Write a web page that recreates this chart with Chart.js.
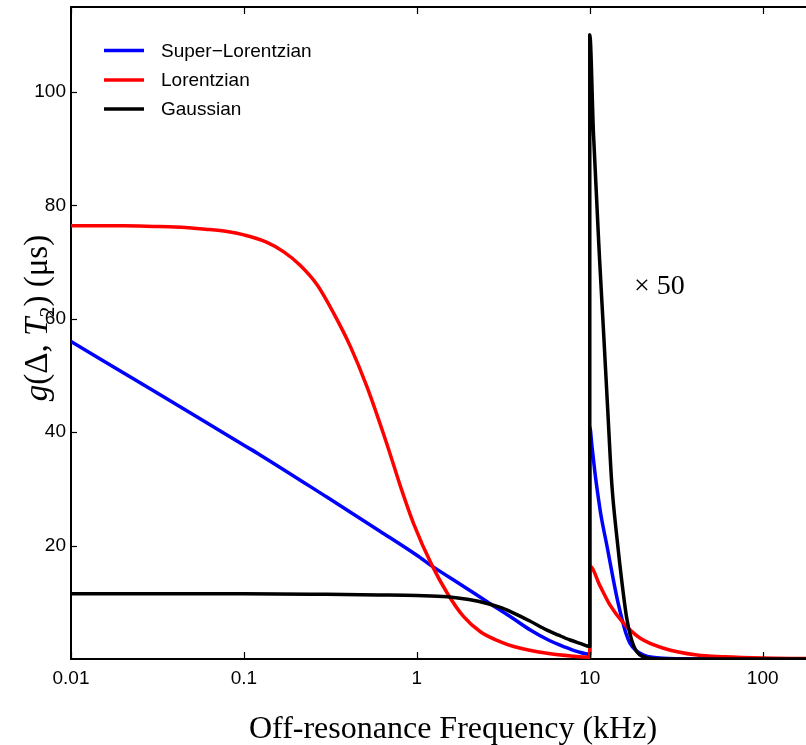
<!DOCTYPE html>
<html><head><meta charset="utf-8">
<script src="https://cdn.jsdelivr.net/npm/chart.js@4/dist/chart.umd.min.js"></script>
<style>html,body{margin:0;padding:0;background:#fff}#wrap{width:806px;height:745px;position:relative}</style>
</head><body><div id="wrap"><canvas id="c"></canvas></div>
<script>
// ---------- data ----------
const seriesNames = ['Super\u2212Lorentzian', 'Lorentzian', 'Gaussian'];
const seriesColors = ['#0000ff', '#ff0000', '#000000'];

// Super-Lorentzian (right of 10 kHz the curve is shown x50)
const superLorentzianFreq = [0.01,0.03,0.1,0.124,0.3,0.615,1.0,1.25,1.8,2.55,3.5,4.53,5.8,7.05,8.5,10,10,10.3,10.8,11.2,11.6,12.6,13.7,14.5,15.4,16.2,17.1,18.5,20.5,23,26.6,40,178];
const superLorentzianValues = [56.0,47.3,37.7,36.0,28.6,22.5,18.3,16.2,13.1,10.1,7.4,5.1,3.3,2.2,1.3,0.82,40.9,37.5,32.0,28.5,25.4,19.8,13.9,10.2,6.9,4.5,2.75,1.5,0.7,0.3,0.12,0.02,0];

// Lorentzian
const lorentzianFreq = [0.01,0.02,0.03,0.04,0.06,0.08,0.1,0.133,0.17,0.212,0.265,0.33,0.413,0.515,0.673,0.803,0.96,1.22,1.5,1.86,2.33,3.0,3.63,5.66,8.0,10,10,11.5,13.1,15.7,19.6,26.7,41.7,60,100,178];
const lorentzianValues = [76.4,76.4,76.3,76.2,75.8,75.4,74.8,73.6,71.8,69.4,66.0,61.0,55.1,48.0,37.8,30.5,23.8,16.6,11.6,7.5,4.8,3.1,2.2,1.0,0.5,0.33,16.4,12.8,9.5,6.3,3.65,1.9,0.7,0.4,0.18,0.08];

// Gaussian
const gaussianFreq = [0.01,0.1,0.3,0.6,1.0,1.5,2.0,2.55,3.1,3.63,4.5,5.66,6.6,7.7,8.8,10,10,10.5,11.4,12.0,12.7,13.4,14.4,15.35,16.4,17.9,20.0,25,178];
const gaussianValues = [11.5,11.5,11.4,11.3,11.2,11.0,10.5,9.8,9.0,8.1,6.7,5.1,4.2,3.35,2.75,2.2,110.1,92.8,70.4,58.0,44.0,31.0,21.0,13.5,7.0,2.4,0.5,0.02,0];

const xTickValues = [0.01, 0.1, 1, 10, 100];
const xTickLabels = ['0.01', '0.1', '1', '10', '100'];
const yTickValues = [20, 40, 60, 80, 100];
const yTickLabels = ['20', '40', '60', '80', '100'];
const xTitle = 'Off-resonance Frequency (kHz)';
const annotationText = '\u00d7 50';

// ---------- chart ----------
function pts(xs, ys) { return xs.map((x, i) => ({ x: x, y: ys[i] })); }

const SANS = '"Liberation Sans", Arial, sans-serif';
const SERIF = '"Liberation Serif", "Times New Roman", serif';

const refPlugin = {
  id: 'refDecor',
  afterDraw(chart) {
    const ctx = chart.ctx, a = chart.chartArea, xs = chart.scales.x, ys = chart.scales.y;
    ctx.save();
    ctx.strokeStyle = '#000';
    // top frame line
    ctx.lineWidth = 2;
    ctx.beginPath(); ctx.moveTo(a.left, a.top); ctx.lineTo(a.right, a.top); ctx.stroke();
    // inward tick marks
    ctx.lineWidth = 1.2;
    xTickValues.forEach(v => {
      const px = Math.round(xs.getPixelForValue(v)) + 0.5;
      ctx.beginPath();
      ctx.moveTo(px, a.bottom); ctx.lineTo(px, a.bottom - 7);
      ctx.moveTo(px, a.top); ctx.lineTo(px, a.top + 7);
      ctx.stroke();
    });
    yTickValues.forEach(v => {
      const py = Math.round(ys.getPixelForValue(v)) + 0.5;
      ctx.beginPath(); ctx.moveTo(a.left, py); ctx.lineTo(a.left + 6, py); ctx.stroke();
    });
    // legend (top-left, inside plot)
    const ds = chart.data.datasets;
    const legendY = [50.5, 80, 109];
    ctx.font = '19px ' + SANS;
    ctx.textBaseline = 'middle';
    ctx.textAlign = 'left';
    ds.forEach((d, i) => {
      ctx.strokeStyle = d.borderColor;
      ctx.lineWidth = 3.7;
      ctx.beginPath(); ctx.moveTo(104, legendY[i]); ctx.lineTo(144, legendY[i]); ctx.stroke();
      ctx.fillStyle = '#000';
      ctx.fillText(d.label, 161, legendY[i] + 1);
    });
    // annotation
    ctx.font = '28px ' + SERIF;
    ctx.textBaseline = 'alphabetic';
    ctx.fillText(annotationText, 634, 294);
    // x title
    ctx.font = '32px ' + SERIF;
    ctx.textAlign = 'center';
    ctx.fillText(xTitle, 453, 738);
    // y title with italic parts
    const size = 33;
    const parts = [
      { t: 'g', f: 'italic ' + size + 'px ' + SERIF, dy: 0 },
      { t: '(\u0394, ', f: size + 'px ' + SERIF, dy: 0 },
      { t: 'T', f: 'italic ' + size + 'px ' + SERIF, dy: 0 },
      { t: '2', f: Math.round(size * 0.68) + 'px ' + SERIF, dy: size * 0.22 },
      { t: ') (\u03bcs)', f: size + 'px ' + SERIF, dy: 0 }
    ];
    let total = 0;
    parts.forEach(p => { ctx.font = p.f; p.w = ctx.measureText(p.t).width; total += p.w; });
    ctx.translate(36, 318);
    ctx.rotate(-Math.PI / 2);
    ctx.textAlign = 'left';
    let x = -total / 2;
    parts.forEach(p => { ctx.font = p.f; ctx.fillText(p.t, x, size * 0.32 + p.dy); x += p.w; });
    ctx.restore();
  }
};

const datasets = [
  { label: seriesNames[0], data: pts(superLorentzianFreq, superLorentzianValues), borderColor: seriesColors[0], order: 2 },
  { label: seriesNames[1], data: pts(lorentzianFreq, lorentzianValues), borderColor: seriesColors[1], order: 1 },
  { label: seriesNames[2], data: pts(gaussianFreq, gaussianValues), borderColor: seriesColors[2], order: 0 }
].map(d => Object.assign(d, {
  borderWidth: 3.5, pointRadius: 0, pointHoverRadius: 0, cubicInterpolationMode: 'monotone', fill: false,
  borderJoinStyle: 'round', borderCapStyle: 'round', backgroundColor: d.borderColor
}));

new Chart(document.getElementById('c'), {
  type: 'line',
  data: { datasets: datasets },
  options: {
    responsive: true, maintainAspectRatio: false, animation: false, devicePixelRatio: 1,
    layout: { padding: { top: 7, right: 0, left: 0, bottom: 0 } },
    plugins: { legend: { display: false }, tooltip: { enabled: false }, title: { display: false } },
    scales: {
      x: {
        type: 'logarithmic', min: 0.01, max: 178,
        afterBuildTicks: s => { s.ticks = xTickValues.map(v => ({ value: v })); },
        afterFit: s => { s.height = 86; s.paddingLeft = 0; s.paddingRight = 0; },
        ticks: {
          autoSkip: false, maxRotation: 0, padding: 8, color: '#000',
          font: { family: SANS, size: 19 },
          callback: (v) => { const i = xTickValues.findIndex(t => Math.abs(t - v) < 1e-9 * Math.max(1, t) + 1e-12); return i >= 0 ? xTickLabels[i] : ''; }
        },
        grid: { display: false, drawTicks: false },
        border: { display: true, color: '#000', width: 2 }
      },
      y: {
        type: 'linear', min: 0, max: 115,
        afterBuildTicks: s => { s.ticks = yTickValues.map(v => ({ value: v })); },
        afterFit: s => { s.width = 71; s.paddingTop = 0; s.paddingBottom = 0; },
        ticks: {
          padding: 5, color: '#000', font: { family: SANS, size: 19 },
          callback: (v) => { const i = yTickValues.indexOf(v); return i >= 0 ? yTickLabels[i] : ''; }
        },
        grid: { display: false, drawTicks: false },
        border: { display: true, color: '#000', width: 2 }
      }
    }
  },
  plugins: [refPlugin]
});
</script>
</body></html>
